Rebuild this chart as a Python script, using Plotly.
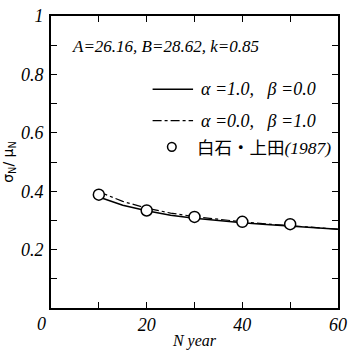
import plotly.graph_objects as go

# data
obs_N = [10, 20, 30, 40, 50]
obs_cv = [0.388, 0.334, 0.312, 0.295, 0.287]
curve_N = [10, 15, 20, 25, 30, 35, 40, 45, 50, 55, 60]
cv_a1 = [0.380, 0.352, 0.333, 0.318, 0.307, 0.299, 0.292, 0.286, 0.281, 0.275, 0.270]
cv_b1 = [0.398, 0.365, 0.342, 0.325, 0.313, 0.303, 0.295, 0.288, 0.282, 0.276, 0.270]
x_ticks = [20, 40, 60]
y_ticks = [0.2, 0.4, 0.6, 0.8, 1.0]
y_tick_labels = ["0.2", "0.4", "0.6", "0.8", "1"]

SERIF = "Liberation Serif"
fig = go.Figure()
fig.add_trace(go.Scatter(x=curve_N, y=cv_a1, mode="lines",
                         line=dict(color="black", width=1.5), showlegend=False))
fig.add_trace(go.Scatter(x=curve_N, y=cv_b1, mode="lines",
                         line=dict(color="black", width=1.2, dash="dashdot"), showlegend=False))
fig.add_trace(go.Scatter(x=obs_N, y=obs_cv, mode="markers",
                         marker=dict(size=11, color="white", line=dict(color="black", width=1.5)),
                         showlegend=False))

axis_common = dict(showgrid=False, zeroline=False, showline=True, linecolor="black", linewidth=1.8,
                   mirror="ticks", ticks="inside", ticklen=6, tickcolor="black", tickwidth=1.3,
                   ticklabeloverflow="allow",
                   tickfont=dict(family=SERIF, size=18, color="black", style="italic"))
fig.update_xaxes(range=[0, 60], tickvals=x_ticks, ticktext=[str(v) for v in x_ticks],
                 minor=dict(dtick=10, tick0=0, ticks="inside", ticklen=6, tickcolor="black", tickwidth=1.3),
                 title=dict(text="N year", font=dict(family=SERIF, size=16, color="black", style="italic"), standoff=1),
                 ticklabelstandoff=-1,
                 **axis_common)
fig.update_yaxes(range=[0, 1], tickvals=y_ticks, ticktext=y_tick_labels,
                 minor=dict(dtick=0.1, tick0=0, ticks="inside", ticklen=6, tickcolor="black", tickwidth=1.3),
                 title=dict(text="σ<sub>N</sub>/ μ<sub>N</sub>", font=dict(family="DejaVu Sans", size=14, color="black"), standoff=5),
                 ticklabelstandoff=2,
                 **axis_common)

ann_font = dict(family=SERIF, size=18, color="black", style="italic")
annotations = [
    dict(x=0.065, y=0.896, xref="paper", yref="paper", text="A=26.16, B=28.62, k=0.85",
         showarrow=False, xanchor="left", yanchor="middle",
         font=dict(family=SERIF, size=17, color="black", style="italic")),
    dict(x=0.515, y=0.749, xref="paper", yref="paper", text="α =1.0,   β =0.0",
         showarrow=False, xanchor="left", yanchor="middle", font=ann_font),
    dict(x=0.515, y=0.642, xref="paper", yref="paper", text="α =0.0,   β =1.0",
         showarrow=False, xanchor="left", yanchor="middle", font=ann_font),
    dict(x=0.5, y=0.552, xref="paper", yref="paper",
         text="<span style='font-family:Noto Sans CJK JP;font-style:normal'>白石・上田</span>(1987)",
         showarrow=False, xanchor="left", yanchor="middle",
         font=dict(family=SERIF, size=17.5, color="black", style="italic")),
    dict(x=-0.01, y=-0.015, xref="paper", yref="paper", text="0", showarrow=False,
         xanchor="right", yanchor="top", font=dict(family=SERIF, size=18, color="black", style="italic")),
]
shapes = [
    dict(type="line", xref="paper", yref="paper", x0=0.354, x1=0.495, y0=0.749, y1=0.749,
         line=dict(color="black", width=1.5)),
    dict(type="line", xref="paper", yref="paper", x0=0.354, x1=0.495, y0=0.642, y1=0.642,
         line=dict(color="black", width=1.2, dash="dashdot")),
    dict(type="circle", xref="paper", yref="paper", x0=0.421 - 0.015, x1=0.421 + 0.015,
         y0=0.552 - 0.015, y1=0.552 + 0.015, line=dict(color="black", width=1.5), fillcolor="white"),
]
fig.update_layout(width=353, height=353, margin=dict(l=50, r=6, t=11, b=43),
                  plot_bgcolor="white", paper_bgcolor="white",
                  annotations=annotations, shapes=shapes)
fig.write_html("out.html")
